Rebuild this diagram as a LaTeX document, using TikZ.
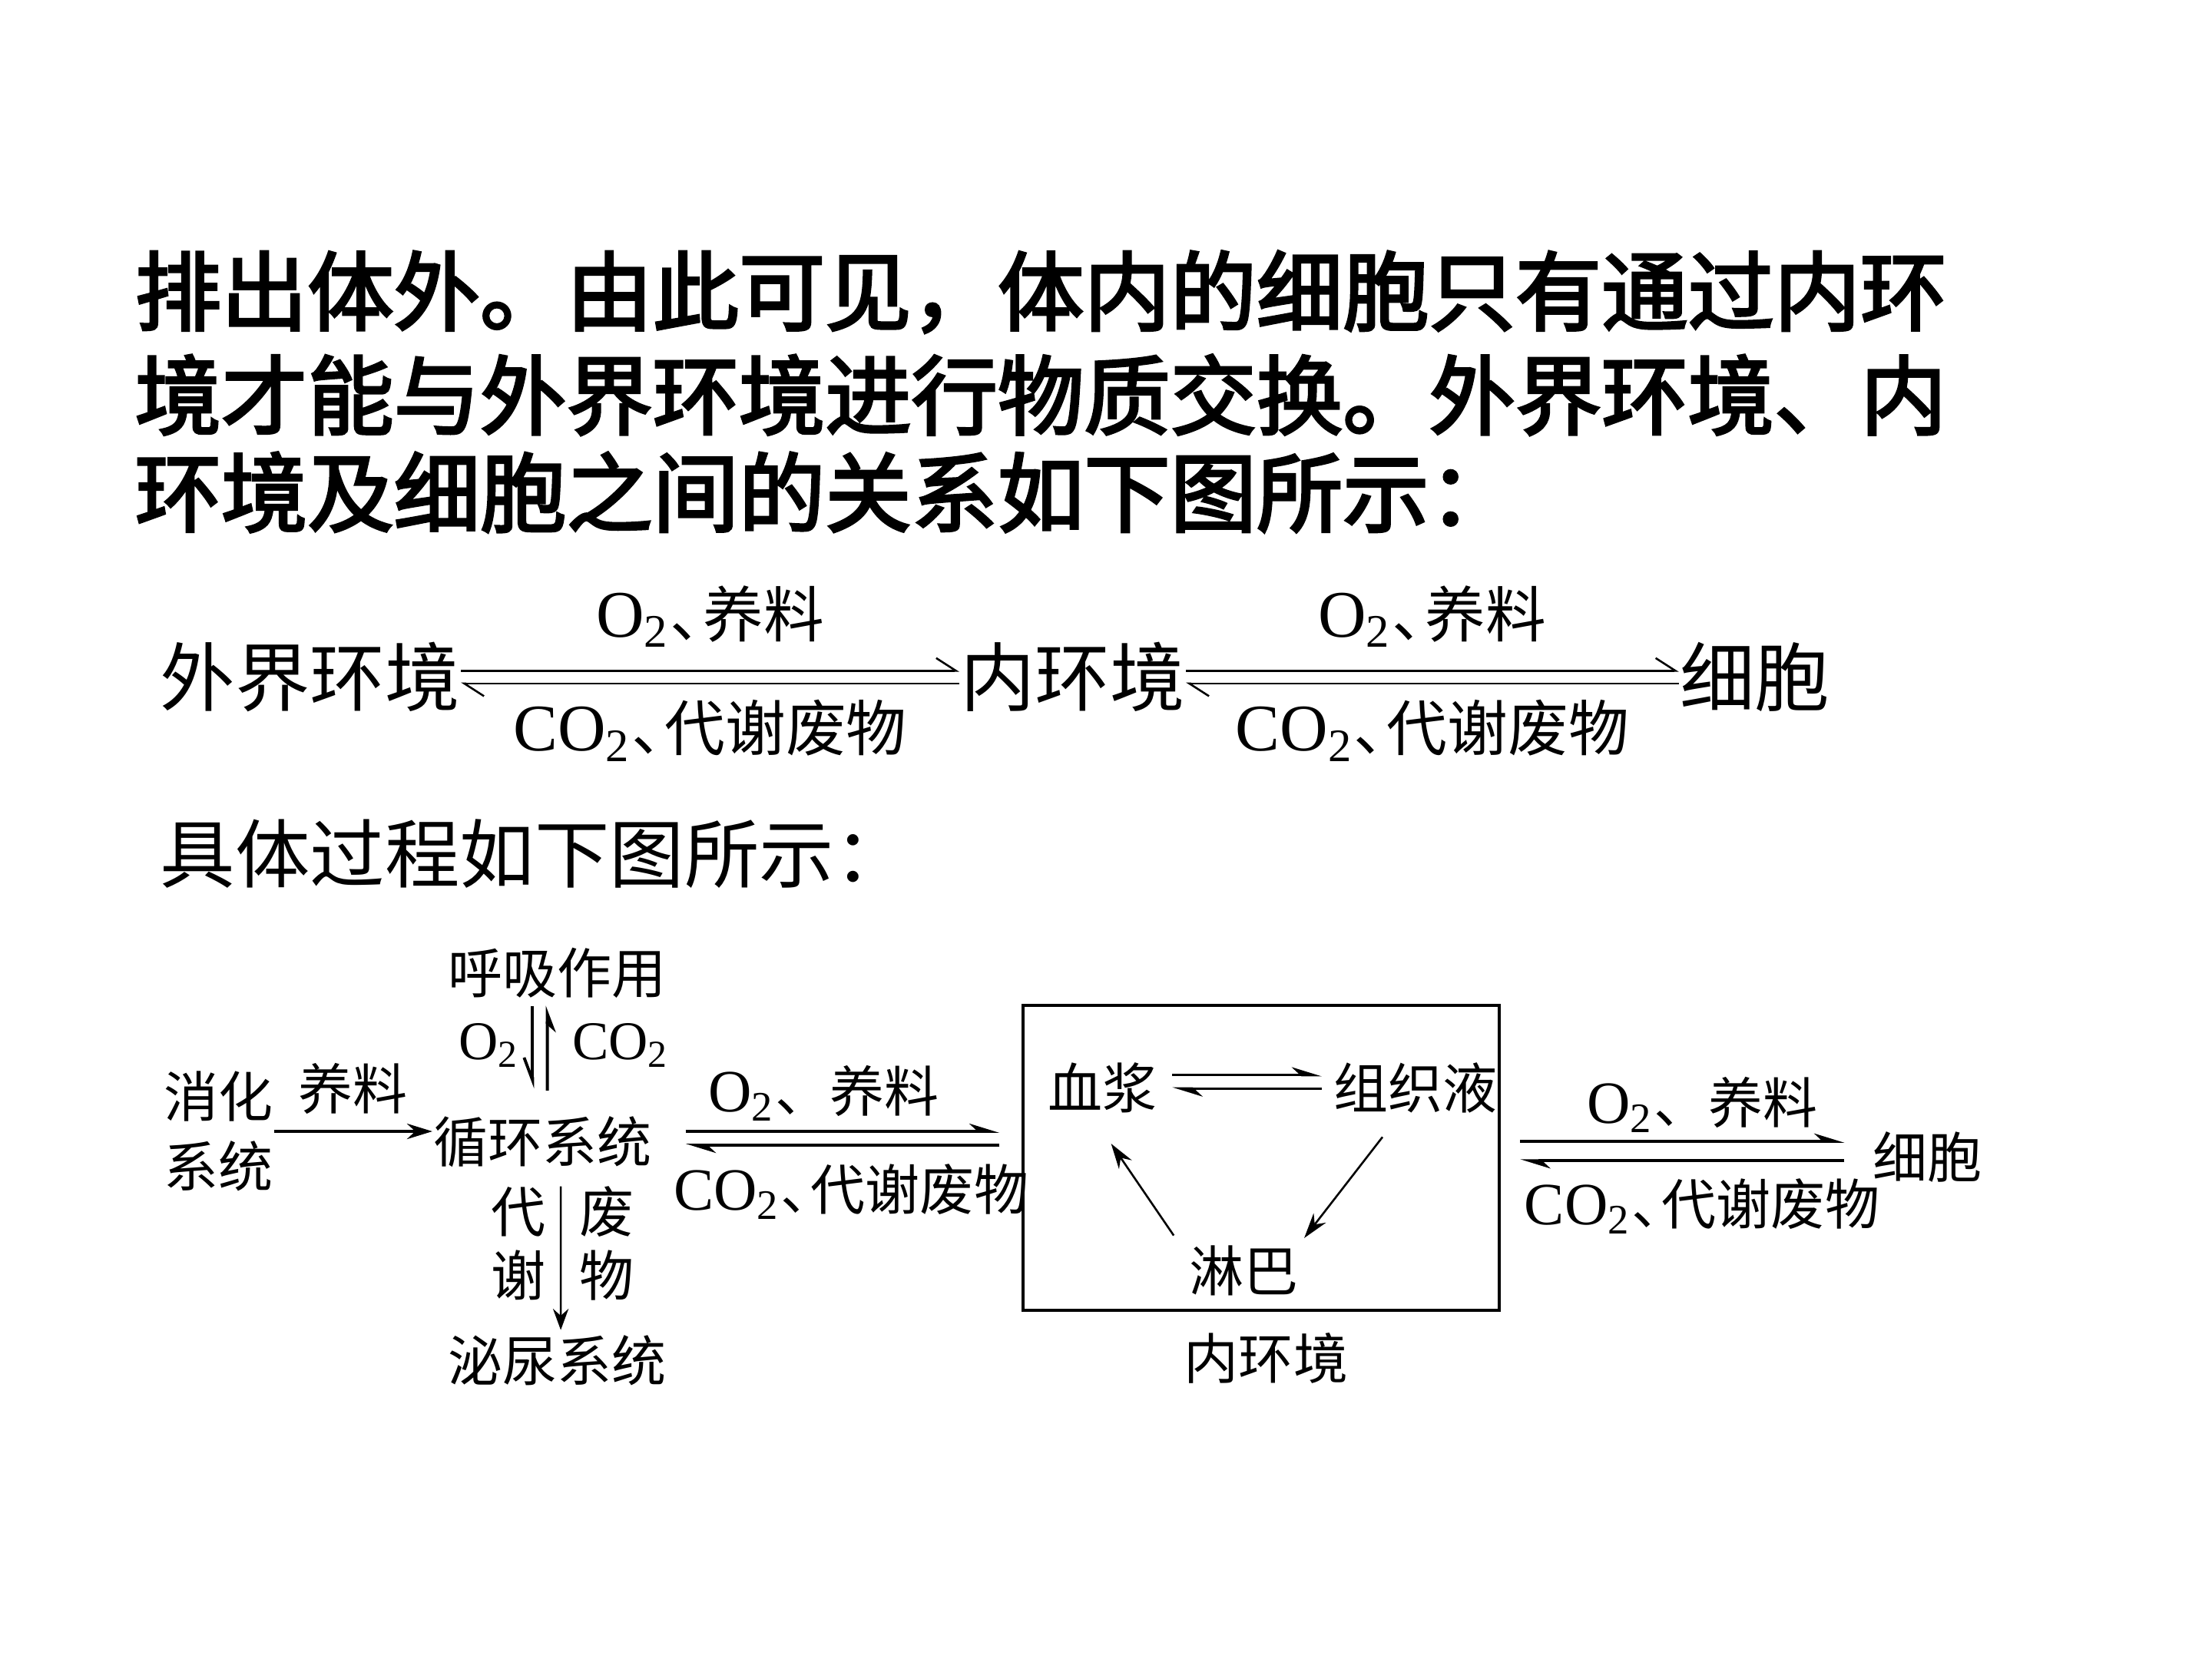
\documentclass[tikz,border=0pt]{standalone}
\usepackage{fontspec}
\usepackage{tikz}
\usetikzlibrary{arrows.meta, positioning, calc}
\newfontfamily\cjk{Noto Sans CJK SC}
\newfontfamily\cjkh{Noto Sans CJK SC}[FakeBold=3]
\newfontfamily\tms{Liberation Serif}[Scale=1.1]
\newcommand{\oxy}{{\tms O\textsubscript{2}}}
\newcommand{\cdo}{{\tms CO\textsubscript{2}}}
\newcommand{\dun}{、\kern-0.45em}

\begin{document}
\begin{tikzpicture}[>=Stealth,
    headline/.style={inner sep=0pt, anchor=west, font=\cjkh\fontsize{17.4}{20}\selectfont},
    big/.style={inner sep=0pt, font=\cjk\fontsize{15.1}{18}\selectfont},
    lbl/.style={inner sep=0pt, font=\cjk\fontsize{12.2}{14}\selectfont},
    sm/.style={inner sep=0pt, align=center, font=\cjk\fontsize{11}{14.2}\selectfont},
    tight/.style={sm, font=\cjk\fontsize{11}{12.8}\selectfont},
    gas/.style={sm, font=\cjk\fontsize{10}{12}\selectfont},
    fwd/.style={line width=0.4pt, -{Straight Barb[harpoon, length=1.4mm, width=1.8mm]}},
    fwdb/.style={line width=0.6pt, -{Stealth[harpoon, length=1.8mm, width=1.1mm]}},
    dnharp/.style={line width=0.6pt, -{Straight Barb[harpoon, swap, length=1.6mm, width=1.2mm]}},
    upharp/.style={line width=0.6pt, -{Stealth[harpoon, swap, length=1.6mm, width=1.2mm]}},
    arr/.style={line width=0.5pt, -{Stealth[length=1.8mm, width=1.1mm]}}]
    \useasboundingbox (0,0) rectangle (15.68,11.76);

    % text above the diagrams
    \node[headline] (t1) at (0.95,9.69) {排出体外。由此可见，体内的细胞只有通过内环};
    \node[headline] (t2) at (0.95,8.96) {境才能与外界环境进行物质交换。外界环境、内};
    \node[headline] (t3) at (0.95,8.27) {环境及细胞之间的关系如下图所示：};

    % overview
    \node[big, anchor=west] (wj) at (1.13,6.96) {外界环境};
    \node[big, anchor=west] (nh) at (6.80,6.96) {内环境};
    \node[big, anchor=west] (xb) at (11.90,6.96) {细胞};
    \draw[fwd] ($(wj.east)+(0,0.045)$) -- ($(nh.west)+(0,0.045)$)
        node[lbl, midway, yshift=3.85mm] (in1) {\oxy\dun 养料};
    \draw[fwd] ($(nh.west)+(0,-0.045)$) -- ($(wj.east)+(0,-0.045)$)
        node[lbl, midway, yshift=-3.35mm] (out1) {\cdo\dun 代谢废物};
    \draw[fwd] ($(nh.east)+(0,0.045)$) -- ($(xb.west)+(0,0.045)$)
        node[lbl, midway, yshift=3.85mm] (in2) {\oxy\dun 养料};
    \draw[fwd] ($(xb.west)+(0,-0.045)$) -- ($(nh.east)+(0,-0.045)$)
        node[lbl, midway, yshift=-3.35mm] (out2) {\cdo\dun 代谢废物};

    \node[big, anchor=west] (gc) at (1.13,5.71) {具体过程如下图所示：};

    % detailed process
    \node[sm] (xh) at (1.55,3.74) {消化\\系统};
    \node[sm] (xt) at (3.845,3.665) {循环系统};
    \node[sm] (hx) at (3.95,4.86) {呼吸作用};
    \node[sm] (ml) at (3.948,2.114) {泌尿系统};
    \node[tight] (dx) at (3.675,2.945) {代\\谢};
    \node[tight] (fw) at (4.30,2.945) {废\\物};
    \node[gas, anchor=east] (o2) at (3.69,4.35) {\oxy};
    \node[gas, anchor=west] (co2) at (4.05,4.35) {\cdo};

    \draw[arr] (xh.east) -- (xh.east -| xt.west) node[sm, midway, yshift=3mm] (yl) {养料};
    \draw[dnharp] ($(hx)+(-0.175,-0.23)$) -- ($(xt)+(-0.07,0.38)$);
    \draw[upharp] ($(xt)+(0.035,0.365)$) -- ($(hx)+(-0.07,-0.23)$);
    \draw[line width=0.4pt, -{Stealth[length=1.5mm, width=1.1mm]}] ($(xt)+(0.13,-0.315)$) -- ($(ml)+(0.027,0.218)$);

    % inner environment
    \node[draw, line width=0.6pt, inner sep=0pt, minimum width=3.378cm, minimum height=2.162cm] (nhk) at (8.939,3.554) {};
    \node[sm] (xj) at (7.816,4.05) {血浆};
    \node[sm] (zzy) at (10.036,4.05) {组织液};
    \node[sm] (lb) at (8.815,2.75) {淋巴};
    \node[sm] (nhj) at (8.975,2.13) {内环境};
    \draw[fwdb] ($(xj.east)+(0.10,0.09)$) -- ($(zzy.west)+(-0.078,0.09)$);
    \draw[fwdb] ($(zzy.west)+(-0.078,-0.008)$) -- ($(xj.east)+(0.10,-0.008)$);
    \draw[arr, line width=0.4pt] ($(zzy)+(-0.236,-0.35)$) -- ($(lb)+(0.43,0.234)$);
    \draw[arr, line width=0.4pt] ($(lb)+(-0.495,0.252)$) -- ($(xj)+(0.06,-0.397)$);

    \draw[fwdb] ($(xt.east)+(0.235,0.075)$) -- ($(nhk.west |- xt)+(-0.154,0.075)$)
        node[sm, midway, xshift=-1.36mm, yshift=2.7mm] (in3) {\oxy、养料};
    \draw[fwdb] ($(nhk.west |- xt)+(-0.154,-0.023)$) -- ($(xt.east)+(0.235,-0.023)$)
        node[sm, midway, xshift=0.6mm, yshift=-3.28mm] (out3) {\cdo\dun 代谢废物};

    \node[sm] (xb2) at (13.66,3.56) {细胞};
    \draw[fwdb] ($(nhk.east)+(0.137,0.116)$) -- ($(nhk.east -| xb2.west)+(-0.192,0.116)$)
        node[sm, midway, xshift=1.4mm, yshift=2.6mm] (in4) {\oxy、养料};
    \draw[fwdb] ($(nhk.east -| xb2.west)+(-0.192,-0.022)$) -- ($(nhk.east)+(0.137,-0.022)$)
        node[sm, midway, xshift=1.4mm, yshift=-3.22mm] (out4) {\cdo\dun 代谢废物};
\end{tikzpicture}
\end{document}
